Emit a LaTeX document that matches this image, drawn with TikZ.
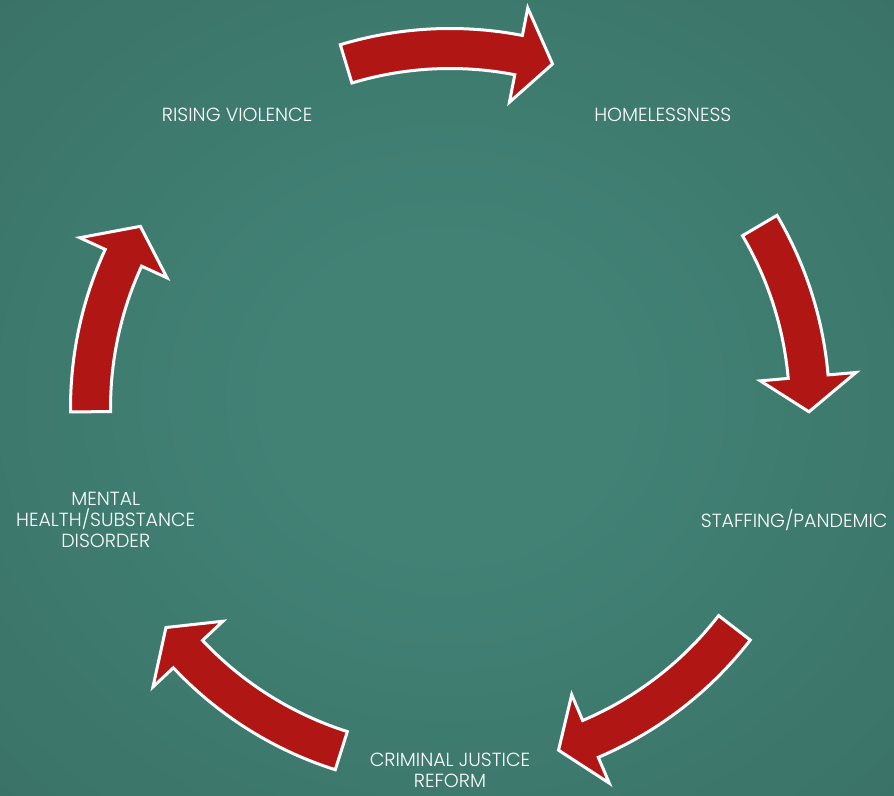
\documentclass[tikz,border=0pt]{standalone}
\usepackage{fontspec}
\setmainfont{Poppins Light}

\definecolor{boardin}{HTML}{418275}
\definecolor{boardmid}{HTML}{37695F}
\definecolor{boardout}{HTML}{2C5B55}
\definecolor{arrowred}{HTML}{B01614}
\pgfdeclareradialshading{boardglow}{\pgfpoint{0bp}{0bp}}{color(0bp)=(boardin); color(10bp)=(boardin); color(50bp)=(boardmid); color(72bp)=(boardout)}

% one bent arrow of the cycle: tail angle, head angle, tip angle
\newcommand{\cyclearrow}[3]{%
  \filldraw[redarrow] (#1:379.5) arc[start angle=#1,end angle=#2,radius=379.5]
    -- (#2:407.5) -- (#3:359) -- (#2:311.5) -- (#2:339.5)
    arc[start angle=#2,end angle=#1,radius=339.5] -- cycle;}

\begin{document}
\begin{tikzpicture}[x=1pt,y=1pt,
    redarrow/.style={fill=arrowred,draw=white,line width=3pt,line join=miter},
    punkt/.style={text=white,align=center,font=\fontsize{19}{21}\selectfont}]
\shade[shading=boardglow] (0,0) rectangle (894,795);
\useasboundingbox (0,0) rectangle (894,795);

\begin{scope}[shift={(450,387)}]
\node[punkt] (violence) at (126:362) {RISING VIOLENCE};
\node[punkt] (homeless) at (54:362) {HOMELESSNESS};
\node[punkt] (staffing) at (-18:362) {STAFFING/PANDEMIC};
\node[punkt] (reform) at (-90:362) {CRIMINAL JUSTICE\\REFORM};
\node[punkt] (mental) at (198:362) {MENTAL\\HEALTH/SUBSTANCE\\DISORDER};

\cyclearrow{106.8}{79}{73.4}
\cyclearrow{30.5}{5}{-0.6}
\cyclearrow{-37.7}{-67}{-72.4}
\cyclearrow{-107.6}{-136.8}{-142.3}
\cyclearrow{180.6}{155.3}{149.6}
\end{scope}
\end{tikzpicture}
\end{document}
